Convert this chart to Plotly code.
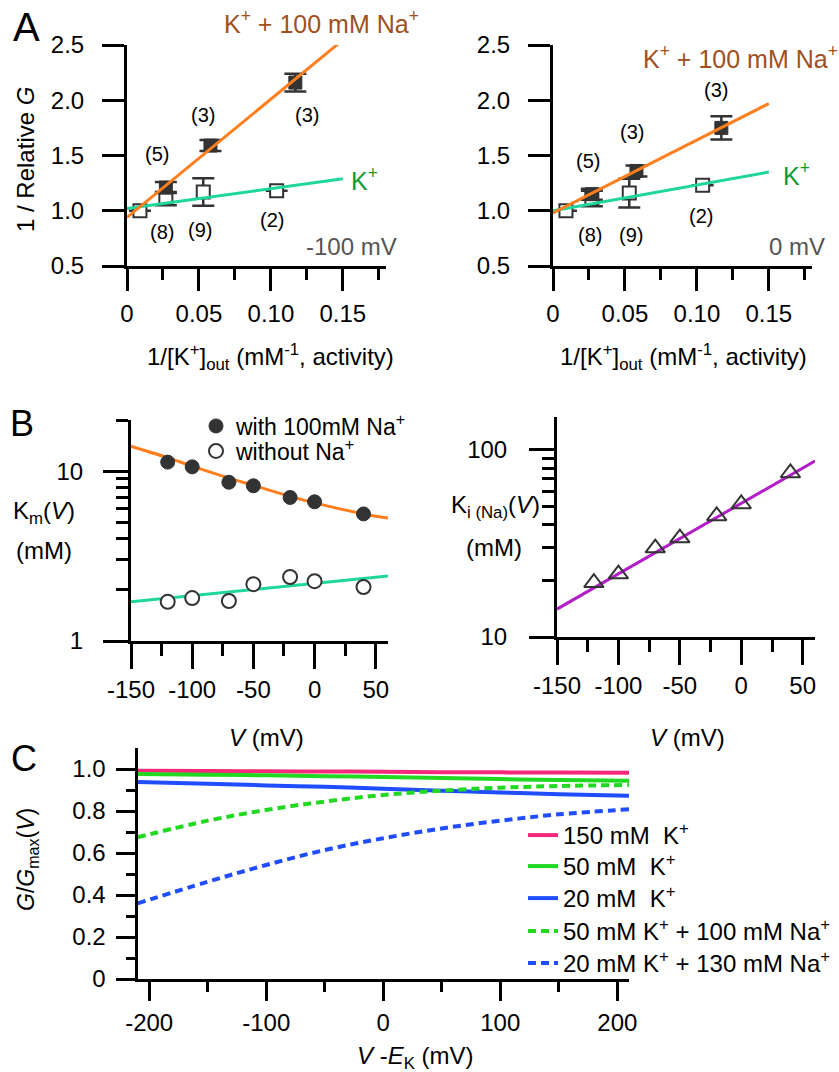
import plotly.graph_objects as go

FONT = "Liberation Sans, Arial, sans-serif"
W, H = 839, 1072

# ---------------- Panel A: 1 / relative G vs 1/[K+]out ----------------
invk_k = [0.009, 0.027, 0.053, 0.104]      # K+ only (open squares)
invk_na = [0.027, 0.058, 0.117]            # K+ + 100 mM Na+ (filled squares)

left_k = [1.00, 1.11, 1.17, 1.18]          # -100 mV
left_k_err = [0, 0.06, 0.125, 0]
left_na = [1.21, 1.59, 2.16]
left_na_err = [0.05, 0.05, 0.08]

right_k = [1.00, 1.11, 1.16, 1.23]         # 0 mV
right_k_err = [0, 0.07, 0.13, 0]
right_na = [1.15, 1.36, 1.75]
right_na_err = [0.05, 0.05, 0.105]

fit_invk = [0, 0.15]
left_k_fit = [1.02, 1.29]
left_na_fit = [0.94, 2.545]
right_k_fit = [1.00, 1.35]
right_na_fit = [0.98, 1.97]

n_k = ["(8)", "(9)", "(2)"]
n_na = ["(5)", "(3)", "(3)"]

# ---------------- Panel B: Km(V) and Ki(Na)(V) ----------------
v_pts = [-120, -100, -70, -50, -20, 0, 40]
km_na = [11.3, 10.6, 8.6, 8.2, 7.0, 6.6, 5.6]
km_k = [1.70, 1.79, 1.72, 2.16, 2.38, 2.25, 2.08]
ki_na = [19.5, 21.7, 29.9, 33.8, 44.4, 51.4, 75.3]

v_fit = [-150, -120, -100, -70, -50, -20, 0, 40, 60]
km_na_fit = [14.0, 12.0, 10.7, 9.1, 8.25, 7.1, 6.5, 5.6, 5.3]
v_line = [-150, 60]
km_k_fit = [1.70, 2.41]
ki_fit = [14.1, 87.3]

# ---------------- Panel C: G/Gmax(V) vs V - EK ----------------
vek = [-210, -150, -100, -50, 0, 50, 100, 150, 210]
g_150k = [0.992, 0.990, 0.989, 0.988, 0.987, 0.985, 0.984, 0.983, 0.982]
g_50k = [0.976, 0.973, 0.970, 0.966, 0.962, 0.957, 0.952, 0.948, 0.944]
g_20k = [0.938, 0.930, 0.922, 0.915, 0.906, 0.897, 0.888, 0.880, 0.873]
g_50k_na = [0.675, 0.754, 0.805, 0.845, 0.876, 0.897, 0.911, 0.919, 0.924]
g_20k_na = [0.360, 0.463, 0.543, 0.614, 0.670, 0.717, 0.754, 0.784, 0.808]

c_names = ["150 mM\u00a0 K<sup>+</sup>", "50 mM\u00a0 K<sup>+</sup>", "20 mM\u00a0 K<sup>+</sup>",
           "50 mM K<sup>+</sup> + 100 mM Na<sup>+</sup>", "20 mM K<sup>+</sup> + 130 mM Na<sup>+</sup>"]

ORANGE = "#ff7f1f"
TEAL = "#1fd69c"
MAGENTA = "#b21ec8"
DARK = "#333333"
PINK = "#f5287c"
GREEN = "#22d922"
BLUE = "#1f4dff"
TICK = 24

fig = go.Figure()


def add(ax, **kw):
    kw.setdefault("showlegend", False)
    fig.add_trace(go.Scatter(xaxis="x" + ax, yaxis="y" + ax, **kw))


def err(vals, w=11):
    return dict(type="data", array=vals, visible=True, color=DARK, thickness=2.5, width=w)


# Panel A traces
for ax, k, kerr, na, naerr, kfit, nafit in [
    ("", left_k, left_k_err, left_na, left_na_err, left_k_fit, left_na_fit),
    ("2", right_k, right_k_err, right_na, right_na_err, right_k_fit, right_na_fit),
]:
    add(ax, x=invk_k, y=k, mode="markers", error_y=err(kerr),
        marker=dict(symbol="square", size=13, color="white", line=dict(color=DARK, width=2)))
    add(ax, x=invk_na, y=na, mode="markers", error_y=err(naerr),
        marker=dict(symbol="square", size=13, color=DARK, line=dict(color=DARK, width=1)))
    add(ax, x=fit_invk, y=kfit, mode="lines", line=dict(color=TEAL, width=3))
    add(ax, x=fit_invk, y=nafit, mode="lines", line=dict(color=ORANGE, width=3))

# Panel B traces
add("3", x=v_fit, y=km_na_fit, mode="lines", line=dict(color=ORANGE, width=3, shape="spline"))
add("3", x=v_line, y=km_k_fit, mode="lines", line=dict(color=TEAL, width=3))
add("3", x=v_pts, y=km_na, mode="markers", name="with 100mM Na<sup>+</sup>", showlegend=True,
    legend="legend2", marker=dict(symbol="circle", size=14, color=DARK, line=dict(color=DARK, width=1)))
add("3", x=v_pts, y=km_k, mode="markers", name="without Na<sup>+</sup>", showlegend=True,
    legend="legend3", marker=dict(symbol="circle", size=14, color="white", line=dict(color=DARK, width=2)))

add("4", x=v_line, y=ki_fit, mode="lines", line=dict(color=MAGENTA, width=3))
add("4", x=v_pts, y=ki_na, mode="markers",
    marker=dict(symbol="triangle-up-open", size=17, color=DARK, line=dict(color=DARK, width=2)))

# Panel C traces, each with its own legend row
c_legends = ["legend", "legend4", "legend5", "legend6", "legend7"]
for i, (g, col, dash) in enumerate([
    (g_150k, PINK, "solid"), (g_50k, GREEN, "solid"), (g_20k, BLUE, "solid"),
    (g_50k_na, GREEN, "8px,5px"), (g_20k_na, BLUE, "8px,5px"),
]):
    add("5", x=vek, y=g, mode="lines", name=c_names[i], showlegend=True, legend=c_legends[i],
        line=dict(color=col, width=4, dash=dash, shape="spline"))


def axis(**kw):
    base = dict(showline=True, linewidth=3, linecolor="black", ticks="outside", tickwidth=3,
                tickcolor="black", showgrid=False, zeroline=False, mirror=False, automargin=False,
                tickfont=dict(size=TICK, color="black", family=FONT), tickmode="array")
    base.update(kw)
    return base


def minor(vals, ln):
    return dict(tickmode="array", tickvals=vals, ticklen=ln, tickwidth=3, tickcolor="black",
                ticks="outside", showgrid=False)


def dom_x(a, b):
    return [a / W, b / W]


def dom_y(top, bottom):
    return [1 - bottom / H, 1 - top / H]


def labels(vals, fmt="{:g}"):
    # plain hyphen for negative numbers, bare "0" at the origin
    return ["0" if v == 0 else fmt.format(v) for v in vals]


a_xt = [0, 0.05, 0.10, 0.15]
a_yt = [0.5, 1.0, 1.5, 2.0, 2.5]
b_xt = [-150, -100, -50, 0, 50]
c_xt = [-200, -100, 0, 100, 200]
c_yt = [0, 0.2, 0.4, 0.6, 0.8, 1.0]

a_x = dict(range=[0, 0.18], tickvals=a_xt, ticktext=["0", "0.05", "0.10", "0.15"],
           ticklen=22, minor=minor([0.025, 0.075, 0.125, 0.175], 11), ticklabelstandoff=2)
a_y = dict(range=[0.5, 2.5], tickvals=a_yt, ticktext=labels(a_yt, "{:.1f}"), ticklen=22,
           ticklabelstandoff=13)
b_x = dict(range=[-150, 60], tickvals=b_xt, ticktext=labels(b_xt), ticklen=25,
           minor=minor([-125, -75, -25, 25], 12), ticklabelstandoff=0)


def leg(x, top, size):
    return dict(x=x / W, y=1 - top / H, xanchor="left", yanchor="top", bgcolor="rgba(0,0,0,0)",
                font=dict(size=size, color="black", family=FONT))


C_ROWS = [832, 863, 895, 928, 960]
legends = {name: leg(523, row - 19, 24) for name, row in zip(c_legends, C_ROWS)}

fig.update_layout(
    xaxis=axis(domain=dom_x(127, 386), anchor="y", **a_x),
    yaxis=axis(domain=dom_y(45, 266), anchor="x", **a_y),
    xaxis2=axis(domain=dom_x(553, 812), anchor="y2", **a_x),
    yaxis2=axis(domain=dom_y(45, 266), anchor="x2", **a_y),
    xaxis3=axis(domain=dom_x(131, 388), anchor="y3", **b_x),
    yaxis3=axis(domain=dom_y(420, 641), anchor="x3", type="log", range=[0, 1.30103],
                tickvals=[1, 10], ticktext=["1", "10"], ticklen=25,
                minor=minor([2, 3, 4, 5, 6, 7, 8, 9, 20], 12), ticklabelstandoff=15),
    xaxis4=axis(domain=dom_x(557, 815), anchor="y4", **b_x),
    yaxis4=axis(domain=dom_y(417, 637), anchor="x4", type="log", range=[1, 2.17609],
                tickvals=[10, 100], ticktext=["10", "100"], ticklen=25,
                minor=minor([20, 30, 40, 50, 60, 70, 80, 90], 12), ticklabelstandoff=17),
    xaxis5=axis(domain=dom_x(137.5, 629), anchor="y5", range=[-210, 210],
                tickvals=c_xt, ticktext=labels(c_xt), ticklen=19,
                minor=minor([-150, -50, 50, 150], 10), ticklabelstandoff=1),
    yaxis5=axis(domain=dom_y(748, 979), anchor="x5", range=[0, 1.1],
                tickvals=c_yt, ticktext=labels(c_yt, "{:.1f}"),
                ticklen=19, minor=minor([0.1, 0.3, 0.5, 0.7, 0.9], 9), ticklabelstandoff=5),
    legend2=leg(196, 404.5, 23),
    legend3=leg(196, 429.5, 23),
    width=W, height=H, margin=dict(l=0, r=0, t=0, b=0, autoexpand=False),
    plot_bgcolor="white", paper_bgcolor="white",
    font=dict(family=FONT, color="black", size=TICK),
)
fig.update_layout(**legends)

ann = []


def text(x, y, s, size=TICK, color="black", angle=0, xref="paper", yref="paper"):
    if xref == "paper":
        x, y = x / W, 1 - y / H
    ann.append(dict(x=x, y=y, xref=xref, yref=yref, text=s, showarrow=False, textangle=angle,
                    xanchor="center", yanchor="middle",
                    font=dict(size=size, color=color, family=FONT)))


# count labels for panel A
a_label_pos = {
    "": ([(0.024, 0.81), (0.051, 0.83), (0.101, 0.92)], [(0.021, 1.51), (0.053, 1.87), (0.125, 1.87)]),
    "2": ([(0.026, 0.78), (0.054, 0.78), (0.103, 0.95)], [(0.024, 1.45), (0.055, 1.71), (0.113, 2.09)]),
}
for ax, (pk, pna) in a_label_pos.items():
    for lab, (px, py) in zip(n_k, pk):
        text(px, py, lab, size=20, xref="x" + ax, yref="y" + ax)
    for lab, (px, py) in zip(n_na, pna):
        text(px, py, lab, size=20, xref="x" + ax, yref="y" + ax)

BROWN = "#a0501e"
KGREEN = "#109a30"
text(321, 22, "K<sup>+</sup> + 100 mM Na<sup>+</sup>", size=25, color=BROWN)
text(740, 57, "K<sup>+</sup> + 100 mM Na<sup>+</sup>", size=25, color=BROWN)
text(364, 179, "K<sup>+</sup>", size=25, color=KGREEN)
text(796, 174, "K<sup>+</sup>", size=25, color=KGREEN)
text(351, 247, "-100 mV", size=24, color="#555555")
text(797, 247, "0 mV", size=24, color="#555555")

text(25, 160, "1 / Relative <i>G</i>", angle=-90)
text(270, 357, "1/[K<sup>+</sup>]<sub>out</sub> (mM<sup>-1</sup>, activity)")
text(683, 357, "1/[K<sup>+</sup>]<sub>out</sub> (mM<sup>-1</sup>, activity)")

text(44, 512, "K<sub>m</sub>(<i>V</i>)")
text(44, 550, "(mM)")
text(495, 507, "K<sub>i (Na)</sub>(<i>V</i>)")
text(494, 547, "(mM)")
text(266, 737, "<i>V</i> (mV)")
text(687, 737, "<i>V</i> (mV)")

text(27, 860, "<i>G</i>/<i>G</i><sub>max</sub>(<i>V</i>)", size=23, angle=-90)
text(415, 1057, "<i>V</i> -<i>E</i><sub>K</sub> (mV)")

text(26, 27, "A", size=40)
text(22, 424, "B", size=36)
text(24, 758, "C", size=36)

fig.update_layout(annotations=ann)
fig.write_html("out.html")
